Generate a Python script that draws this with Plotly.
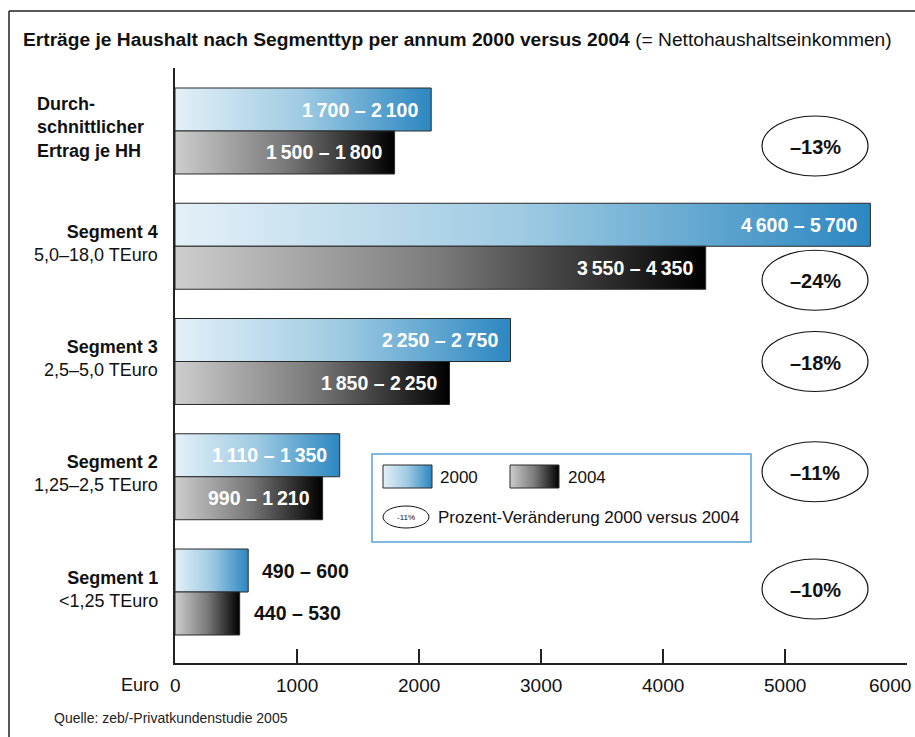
import plotly.graph_objects as go

# ---------------- data ----------------
label_main = ["Durch-<br>schnittlicher<br>Ertrag je HH", "Segment 4", "Segment 3", "Segment 2", "Segment 1"]
label_sub = ["", "5,0–18,0 TEuro", "2,5–5,0 TEuro", "1,25–2,5 TEuro", "&lt;1,25 TEuro"]
low_2000 = [1700, 4600, 2250, 1110, 490]
high_2000 = [2100, 5700, 2750, 1350, 600]
low_2004 = [1500, 3550, 1850, 990, 440]
high_2004 = [1800, 4350, 2250, 1210, 530]
change_pct = [-13, -24, -18, -11, -10]
tick_values = [0, 1000, 2000, 3000, 4000, 5000, 6000]
tick_labels = ["0", "1000", "2000", "3000", "4000", "5000", "6000"]

# ---------------- styling ----------------
FONT = "Liberation Sans, Arial, sans-serif"
BLUE_SCALE = [[0, "#e4f0f8"], [0.5, "#9ecae2"], [1, "#2c87c1"]]
GRAY_SCALE = [[0, "#cdcdcd"], [0.5, "#7a7a7a"], [1, "#000000"]]
HALF = 0.373          # bar thickness in category units
# pixel geometry of plot area
PX_L, PX_R, PX_T, PX_B = 175, 907, 68, 663
W, H = 915, 737
ELL_OFFSET_PX = [15, 34, 0, -5, -3]
UNIT_PX = 115.25


def fmt(v):
    return f"{v:,}".replace(",", "\u2009")


def px2paper_x(p):
    return (p - PX_L) / (PX_R - PX_L)


def px2paper_y(q):
    return (PX_B - q) / (PX_B - PX_T)


fig = go.Figure()


def add_bar(x0, x1, y0, y1, scale, xa="x", ya="y"):
    fig.add_trace(go.Scatter(
        x=[x0, x1, x1, x0, x0], y=[y0, y0, y1, y1, y0],
        mode="lines", fill="toself",
        fillgradient=dict(type="horizontal", colorscale=scale),
        line=dict(color="#2a2a2a", width=1),
        xaxis=xa, yaxis=ya, hoverinfo="skip", showlegend=False))


for i in range(len(high_2000)):
    add_bar(0, high_2000[i], i - HALF, i, BLUE_SCALE)
    add_bar(0, high_2004[i], i, i + HALF, GRAY_SCALE)

annotations = []
for i in range(len(high_2000)):
    for val_lo, val_hi, yc in ((low_2000[i], high_2000[i], i - HALF / 2),
                               (low_2004[i], high_2004[i], i + HALF / 2)):
        txt = f"<b>{fmt(val_lo)} – {fmt(val_hi)}</b>"
        if val_hi >= 1000:
            annotations.append(dict(x=val_hi, y=yc, xref="x", yref="y", text=txt,
                                    showarrow=False, xanchor="right", xshift=-11,
                                    font=dict(family=FONT, size=19.5, color="white")))
        else:
            annotations.append(dict(x=val_hi, y=yc, xref="x", yref="y", text=txt,
                                    showarrow=False, xanchor="left", xshift=12,
                                    font=dict(family=FONT, size=19.5, color="#111")))

# category labels
for i in range(len(label_main)):
    if label_sub[i]:
        txt = f"<b>{label_main[i]}</b><br>{label_sub[i]}"
        annotations.append(dict(x=0, y=i, xref="x", yref="y", text=txt, showarrow=False,
                                xanchor="right", align="right", xshift=-15, yshift=3,
                                font=dict(family=FONT, size=18, color="#111")))
    else:
        txt = f"<b>{label_main[i]}</b>"
        annotations.append(dict(x=0, y=i, xref="x", yref="y", text=txt, showarrow=False,
                                xanchor="left", align="left", xshift=35 - PX_L, yshift=4,
                                font=dict(family=FONT, size=18, color="#111")))

# x tick labels (last one kept inside the page)
for k, (tv, tl) in enumerate(zip(tick_values, tick_labels)):
    last = k == len(tick_values) - 1
    annotations.append(dict(x=tv, y=px2paper_y(685), xref="x", yref="paper", text=tl,
                            showarrow=False, yanchor="middle",
                            xanchor="right" if last else "center", xshift=6 if last else 0,
                            font=dict(family=FONT, size=19, color="#111")))

shapes = []
# percentage ellipses (in helper pixel axes)
for i, pct in enumerate(change_pct):
    cy = 131 + UNIT_PX * i + ELL_OFFSET_PX[i]
    shapes.append(dict(type="circle", xref="x2", yref="y2", x0=762, x1=868,
                       y0=cy - 30, y1=cy + 30, line=dict(color="#111", width=1.2)))
    annotations.append(dict(x=815, y=cy, xref="x2", yref="y2",
                            text=f"<b>–{abs(pct)}%</b>", yshift=-1,
                            showarrow=False, font=dict(family=FONT, size=20, color="#111")))

# legend box
shapes.append(dict(type="rect", xref="x2", yref="y2", x0=372, x1=751, y0=454, y1=542,
                   line=dict(color="#55a3d5", width=1.5), fillcolor="white", layer="below"))
add_bar(383, 432, 488, 465, BLUE_SCALE, "x2", "y2")
add_bar(510, 559, 488, 465, GRAY_SCALE, "x2", "y2")
annotations.append(dict(x=438, y=477, xref="x2", yref="y2", text="2000", showarrow=False,
                        xanchor="left", font=dict(family=FONT, size=17, color="#111")))
annotations.append(dict(x=566, y=477, xref="x2", yref="y2", text="2004", showarrow=False,
                        xanchor="left", font=dict(family=FONT, size=17, color="#111")))
shapes.append(dict(type="circle", xref="x2", yref="y2", x0=383, x1=429, y0=506, y1=528,
                   line=dict(color="#111", width=1)))
annotations.append(dict(x=406, y=517, xref="x2", yref="y2", text="-11%", showarrow=False,
                        font=dict(family=FONT, size=8, color="#111")))
annotations.append(dict(x=436, y=517, xref="x2", yref="y2",
                        text="Prozent-Veränderung 2000 versus 2004", showarrow=False,
                        xanchor="left", font=dict(family=FONT, size=17, color="#111")))

# outer frame (left and top lines)
shapes.append(dict(type="line", xref="paper", yref="paper",
                   x0=px2paper_x(9), x1=px2paper_x(9), y0=px2paper_y(11), y1=px2paper_y(740),
                   line=dict(color="#222", width=1.5)))
shapes.append(dict(type="line", xref="paper", yref="paper",
                   x0=px2paper_x(9), x1=px2paper_x(918), y0=px2paper_y(11), y1=px2paper_y(11),
                   line=dict(color="#222", width=1.5)))

# title
annotations.append(dict(x=px2paper_x(21), y=px2paper_y(40), xref="paper", yref="paper",
                        xanchor="left", yanchor="middle", showarrow=False,
                        text="<b>Erträge je Haushalt nach Segmenttyp per annum 2000 versus 2004</b> (= Nettohaushaltseinkommen)",
                        font=dict(family=FONT, size=19.2, color="#111")))
# Euro unit label
annotations.append(dict(x=px2paper_x(161), y=px2paper_y(685), xref="paper", yref="paper",
                        xanchor="right", yanchor="middle", showarrow=False, text="Euro",
                        font=dict(family=FONT, size=18, color="#111")))
# source
annotations.append(dict(x=px2paper_x(52), y=px2paper_y(718), xref="paper", yref="paper",
                        xanchor="left", yanchor="middle", showarrow=False,
                        text="Quelle: zeb/-Privatkundenstudie 2005",
                        font=dict(family=FONT, size=14, color="#222")))

y_top = -(131 - PX_T) / UNIT_PX
y_bot = (PX_B - 131) / UNIT_PX

fig.update_layout(
    width=W, height=H,
    margin=dict(l=PX_L, r=W - PX_R, t=PX_T, b=H - PX_B, pad=0, autoexpand=False),
    paper_bgcolor="white", plot_bgcolor="rgba(0,0,0,0)",
    showlegend=False,
    xaxis=dict(range=[0, 6000], tickvals=tick_values, showticklabels=False,
               showgrid=False, zeroline=False, showline=True, linecolor="#222", linewidth=1.5,
               ticks="inside", ticklen=14, tickwidth=1.5, tickcolor="#222",
               automargin=False, fixedrange=True),
    yaxis=dict(range=[y_bot, y_top], showgrid=False, zeroline=False, showticklabels=False,
               showline=True, linecolor="#222", linewidth=1.5, ticks="", fixedrange=True,
               automargin=False),
    xaxis2=dict(range=[PX_L, PX_R], overlaying="x", visible=False, anchor="y2", fixedrange=True),
    yaxis2=dict(range=[PX_B, PX_T], overlaying="y", visible=False, anchor="x2", fixedrange=True),
    shapes=shapes, annotations=annotations,
)

fig.write_html("out.html")
